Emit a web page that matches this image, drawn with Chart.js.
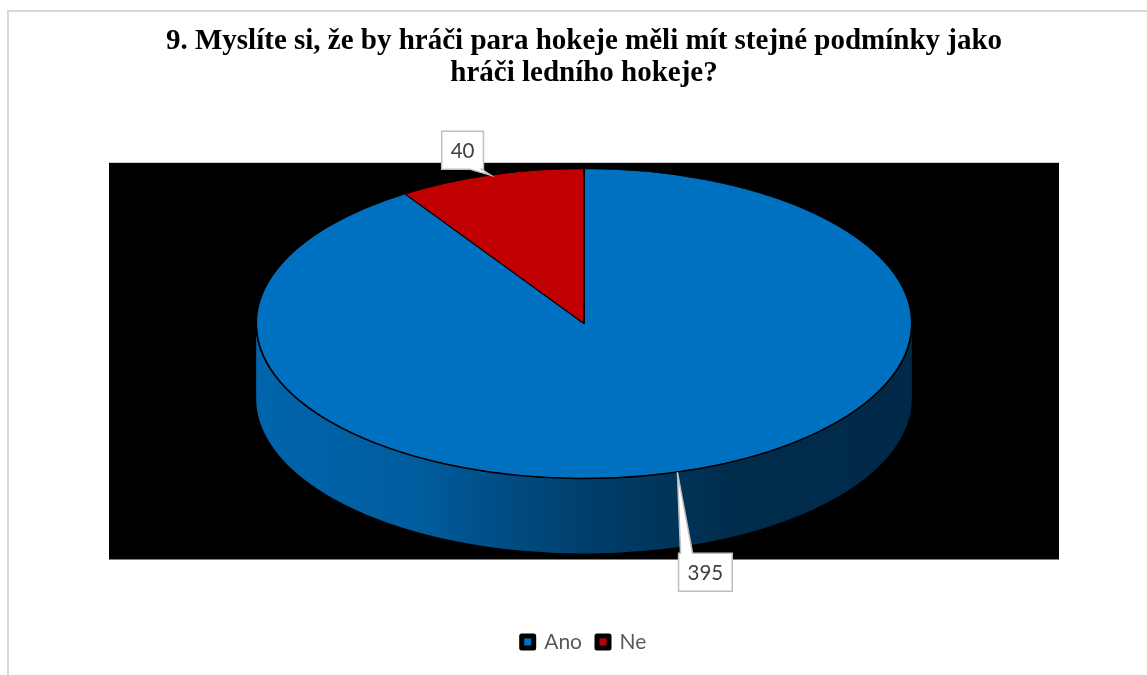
<!DOCTYPE html>
<html><head><meta charset="utf-8">
<script src="https://cdn.jsdelivr.net/npm/chart.js@4.4.1/dist/chart.umd.min.js"></script>
<style>html,body{margin:0;padding:0;background:#fff;}#wrap{width:1147px;height:675px;}</style>
</head><body><div id="wrap"><canvas id="c" width="1147" height="675"></canvas></div>
<script>
// ---- data ----
const titleLines = ['9. Myslíte si, že by hráči para hokeje měli mít stejné podmínky jako', 'hráči ledního hokeje?'];
const categories = ['Ano', 'Ne'];
const values = [395, 40];
const sliceColors = ['#0070C0', '#C00000'];

// ---- 3D look (projection parameters) ----
const SCALE_X = 1.657;   // horizontal stretch of the pie disc
const TILT = 0.783;      // vertical squash of the pie disc
const DEPTH = 75;        // thickness of the disc
const LABEL_DX = 28, LABEL_DY = 25;
const labelFont = '20.5px Lato';

function rgb(hex){ const n = parseInt(hex.slice(1),16); return [(n>>16)&255,(n>>8)&255,n&255]; }
function shade(hex,f){ const c = rgb(hex).map(v=>Math.round(v*f)); return `rgb(${c[0]},${c[1]},${c[2]})`; }

function geom(chart){
  const arc = chart.getDatasetMeta(0).data[0];
  const cx = arc.x, cy = arc.y, R = arc.outerRadius;
  return {cx, cy, R, rx: R*SCALE_X, ry: R*TILT, top: cy - DEPTH/2};
}

const pie3d = {
  id: 'pie3d',
  beforeDraw(chart){
    const {ctx, chartArea:a} = chart;
    ctx.save();
    ctx.fillStyle = '#fff'; ctx.fillRect(0,0,chart.width,chart.height);
    ctx.strokeStyle = '#d9d9d9'; ctx.lineWidth = 2;
    ctx.strokeRect(8, 11, chart.width + 10, chart.height + 10);
    ctx.fillStyle = '#000';
    ctx.fillRect(a.left, a.top, a.right - a.left, a.bottom - a.top);
    ctx.restore();
  },
  beforeDatasetsDraw(chart){
    const {ctx} = chart;
    const g = geom(chart);
    const meta = chart.getDatasetMeta(0);
    ctx.save();
    meta.data.forEach((arc,i)=>{
      const a0 = arc.startAngle, a1 = arc.endAngle;
      for (const k of [-1,0,1]) {
        const base = k*2*Math.PI;
        const lo = Math.max(a0, base), hi = Math.min(a1, base + Math.PI);
        if (hi > lo) {
          const l = lo - base, h = hi - base;
          const grad = ctx.createLinearGradient(g.cx - g.rx, 0, g.cx + g.rx, 0);
          const col = sliceColors[i];
          grad.addColorStop(0, shade(col, 0.9));
          grad.addColorStop(0.25, shade(col, 0.82));
          grad.addColorStop(0.5, shade(col, 0.56));
          grad.addColorStop(0.72, shade(col, 0.4));
          grad.addColorStop(1, shade(col, 0.37));
          ctx.beginPath();
          ctx.ellipse(g.cx, g.top, g.rx, g.ry, 0, l, h);
          ctx.ellipse(g.cx, g.top + DEPTH, g.rx, g.ry, 0, h, l, true);
          ctx.closePath();
          ctx.fillStyle = grad;
          ctx.fill();
        }
      }
    });
    ctx.restore();
    ctx.save();
    ctx.translate(g.cx, g.top);
    ctx.scale(SCALE_X, TILT);
    ctx.translate(-g.cx, -g.cy);
  },
  afterDatasetsDraw(chart){
    const {ctx} = chart;
    ctx.restore();
    const g = geom(chart);
    // front rim line
    ctx.save();
    ctx.beginPath();
    ctx.ellipse(g.cx, g.top, g.rx, g.ry, 0, 0.02, Math.PI - 0.02);
    ctx.strokeStyle = '#000'; ctx.lineWidth = 1.5; ctx.stroke();
    ctx.restore();
    // callout labels
    const meta = chart.getDatasetMeta(0);
    ctx.save();
    ctx.font = labelFont;
    meta.data.forEach((arc,i)=>{
      const mid = (arc.startAngle + arc.endAngle)/2;
      const c = Math.cos(mid), s = Math.sin(mid);
      const tip = {x: g.cx + g.rx*c, y: g.top + g.ry*s};
      const front = s > 0;
      const bx = tip.x + Math.sign(c)*LABEL_DX;
      const by = tip.y + Math.sign(s)*LABEL_DY + (front ? DEPTH : 0);
      const txt = String(values[i]);
      const w = ctx.measureText(txt).width + 18, h = 38;
      const L = bx - w/2, R = bx + w/2, T = by - h/2, B = by + h/2;
      const bw = 12;
      const bc = Math.min(Math.max(tip.x, L + bw/2 + 2), R - bw/2 - 2);
      ctx.beginPath();
      if (tip.y < T) {
        ctx.moveTo(L, T); ctx.lineTo(bc - bw/2, T); ctx.lineTo(tip.x, tip.y);
        ctx.lineTo(bc + bw/2, T); ctx.lineTo(R, T); ctx.lineTo(R, B); ctx.lineTo(L, B);
      } else {
        ctx.moveTo(L, T); ctx.lineTo(R, T); ctx.lineTo(R, B); ctx.lineTo(bc + bw/2, B);
        ctx.lineTo(tip.x, tip.y); ctx.lineTo(bc - bw/2, B); ctx.lineTo(L, B);
      }
      ctx.closePath();
      ctx.fillStyle = '#fff'; ctx.fill();
      ctx.strokeStyle = '#bfbfbf'; ctx.lineWidth = 1.5; ctx.stroke();
      ctx.fillStyle = '#404040';
      ctx.textAlign = 'center'; ctx.textBaseline = 'middle';
      ctx.fillText(txt, bx, by + 1);
    });
    ctx.restore();
  }
};

new Chart(document.getElementById('c'), {
  type: 'pie',
  data: {
    labels: categories,
    datasets: [{
      data: values,
      backgroundColor: sliceColors,
      borderColor: '#000',
      borderWidth: 1,
      hoverOffset: 0
    }]
  },
  options: {
    responsive: false,
    devicePixelRatio: 1,
    animation: false,
    events: [],
    layout: { padding: { left: 109, right: 88, top: 0, bottom: 12.5 } },
    plugins: {
      title: {
        display: true,
        text: titleLines,
        color: '#000',
        font: { family: 'Liberation Serif', size: 29, weight: 'bold', lineHeight: 1.1 },
        padding: { top: 26, bottom: 73 }
      },
      legend: {
        position: 'bottom',
        title: { display: true, text: '', font: { size: 10, lineHeight: 1 }, padding: { top: 47, bottom: 0 } },
        labels: {
          color: '#595959',
          font: { family: 'Lato', size: 21 },
          boxWidth: 12, boxHeight: 12, padding: 15,
          generateLabels(chart){
            return categories.map((name,i)=>({
              text: name, fillStyle: sliceColors[i], strokeStyle: '#000',
              lineWidth: 5, lineJoin: 'round', fontColor: '#595959', hidden: false, index: i
            }));
          }
        }
      },
      tooltip: { enabled: false }
    }
  },
  plugins: [pie3d]
});
</script>
</body></html>
